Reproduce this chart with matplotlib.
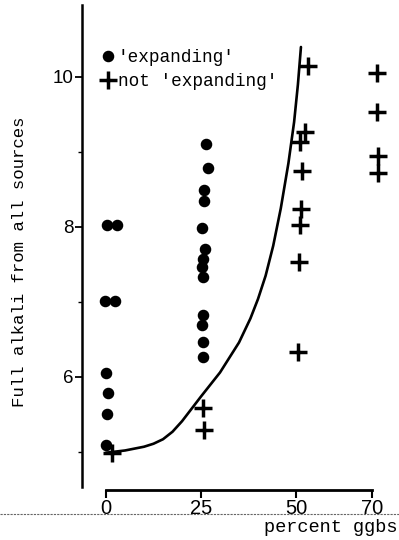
import matplotlib.pyplot as plt
from matplotlib.lines import Line2D

# 'expanding' samples (dots)
exp_x = [0.2, 2.9, -0.3, 2.4, 0, 0.4, 0.3, 0,
         26.3, 26.8, 25.8, 25.8, 25.3, 26.0, 25.6, 25.3, 25.5, 25.5, 25.3, 25.5, 25.5]
exp_y = [8.03, 8.03, 7.01, 7.01, 6.05, 5.79, 5.51, 5.09,
         9.11, 8.79, 8.49, 8.35, 7.99, 7.70, 7.57, 7.47, 7.33, 6.83, 6.69, 6.47, 6.27]

# not 'expanding' samples (plus)
nexp_x = [1.5, 25.5, 25.7, 53.2, 52.3, 51.0, 51.5, 51.3, 51.0, 50.8, 50.5,
          71.3, 71.3, 71.5, 71.6]
nexp_y = [4.98, 5.59, 5.29, 10.15, 9.27, 9.13, 8.74, 8.24, 8.02, 7.53, 6.33,
          10.05, 9.53, 8.94, 8.72]

# hand drawn boundary curve
curve_x = [0, 5, 10, 12.5, 15, 17.5, 20, 25, 30, 35, 38, 40, 42, 44, 46, 48,
           49.5, 50.5, 51.3]
curve_y = [4.99, 5.02, 5.07, 5.11, 5.17, 5.27, 5.41, 5.74, 6.06, 6.46, 6.78, 7.04,
           7.35, 7.75, 8.25, 8.85, 9.4, 9.9, 10.4]

xticks = [0, 25, 50, 70]
yticks = [6, 8, 10]
yminor = [5, 7, 9]

mono = "Liberation Mono"
sans = "Liberation Sans"

fig = plt.figure(figsize=(3.99, 5.40), dpi=100)
ax = fig.add_axes([82 / 399, 53 / 540, 313 / 399, 482 / 540])

ax.plot(curve_x, curve_y, color="black", lw=1.9, solid_capstyle="round",
        solid_joinstyle="round")
ax.plot(exp_x, exp_y, "o", color="black", ms=7.3, mec="black")
ax.plot(nexp_x, nexp_y, "+", color="black", ms=13, mew=2.5)

ax.set_xlim(-6.32, 76.05)
ax.set_ylim(4.533, 10.96)

ax.spines["top"].set_visible(False)
ax.spines["right"].set_visible(False)
ax.spines["left"].set_linewidth(1.8)
ax.spines["bottom"].set_linewidth(2.0)
ax.spines["bottom"].set_position(("outward", 2))
ax.spines["bottom"].set_bounds(0, 70)

ax.set_xticks(xticks)
ax.set_xticklabels([str(t) for t in xticks], fontfamily=sans, fontsize=14.5)
ax.set_yticks(yticks)
ax.set_yticks(yminor, minor=True)
ax.set_yticklabels([str(t) for t in yticks], fontfamily=sans, fontsize=13.5)
ax.tick_params(axis="x", direction="out", length=6, width=1.5, pad=1)
ax.tick_params(axis="y", which="major", direction="out", length=5, width=1.3, pad=1)
ax.tick_params(axis="y", which="minor", direction="out", length=3, width=1.0)

fig.text(20 / 399, 1 - 262 / 540, "Full alkali from all sources", rotation=90,
         ha="center", va="center", fontfamily=mono, fontsize=12.5)
fig.text(398 / 399, 1 - 528 / 540, "percent ggbs", ha="right", va="center",
         fontfamily=mono, fontsize=13.4)

# scan artefact: dotted rule across the page
fig.add_artist(Line2D([0, 1], [1 - 514 / 540] * 2, transform=fig.transFigure,
                      color="0.4", lw=0.8, ls=(0, (2, 1))))

handles = [
    Line2D([], [], ls="none", marker="o", color="black", ms=7.3),
    Line2D([], [], ls="none", marker="+", color="black", ms=13, mew=2.5),
]
ax.legend(handles, ["'expanding'", "not 'expanding'"], loc="upper left",
          bbox_to_anchor=(91 / 399, 1 - 40 / 540), bbox_transform=fig.transFigure,
          frameon=False, borderpad=0, handlelength=0.9, handletextpad=0.1,
          labelspacing=0.42, prop={"family": mono, "size": 12.8})

fig.savefig("out.png", dpi=100)
